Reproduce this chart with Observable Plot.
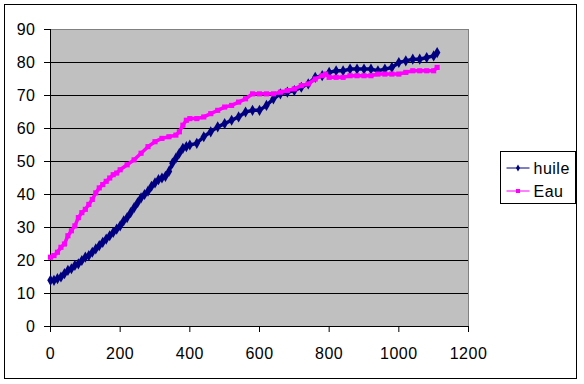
<!DOCTYPE html>
<html>
<head>
<meta charset="utf-8">
<script src="https://cdn.jsdelivr.net/npm/d3@7"></script>
<script src="https://cdn.jsdelivr.net/npm/@observablehq/plot@0.6"></script>
<style>
  html, body { margin: 0; padding: 0; background: #fff; }
  #wrap { position: relative; width: 584px; height: 384px; }
  #border { position: absolute; left: 4px; top: 4px; width: 573px; height: 375px; border: 1px solid #000; box-sizing: border-box; pointer-events: none; }
</style>
</head>
<body>
<div id="wrap"><div id="border"></div></div>
<script>
// Data
const seriesNames = ["huile", "Eau"];
const huileX = [0,10,20,30,40,50,60,70,80,90,100,110,120,130,140,150,160,170,180,190,200,210,220,230,240,250,260,270,280,290,300,310,320,330,340,350,360,370,380,390,400,420,440,460,480,500,520,540,560,580,600,620,640,660,680,700,720,740,760,780,800,820,840,860,880,900,920,940,960,980,1000,1020,1040,1060,1080,1100,1110];
const huileY = [14,14,14.5,15,16,17,17.5,18.5,19,20,21,21.5,22.5,23.5,24.5,25.5,26.5,27.5,28.5,29.5,30.5,32,33,34.5,36,37.5,39,40,41,42.5,43.5,44.5,45,45.5,47,49.5,51,52.5,54,54.5,55,55.5,57.5,59,60.5,61.5,62.5,63.5,65,65.5,65.5,67,69,70.5,71,71.5,72.5,73.5,75.5,76,77,77.5,77.5,78,78,78,78,77.5,78,78.5,80,80.5,81,81,81.5,82,83];
const eauX = [0,10,20,30,40,50,60,70,80,90,100,110,120,130,140,150,160,170,180,190,200,220,240,260,280,300,320,340,360,370,380,390,400,420,440,460,480,500,520,540,560,580,600,620,640,660,680,700,720,740,760,780,790,800,820,840,860,880,900,920,940,960,980,1000,1020,1040,1060,1080,1100,1110];
const eauY = [21,21.5,22.5,24,25,27.5,29,30.5,33,34.5,35.5,37,38.5,40.5,42,43,44,45,46,46.5,47.5,49,50.5,52.5,54.5,56,57,57.5,58,59,61,62.5,63,63,63.5,64.5,65.5,66.5,67,68,69,70.5,70.5,70.5,70.5,71,71.5,72,73,73.5,75,76,76.5,75.5,75.5,75.5,76,76,76,76,76.5,76.5,76.5,76.5,77,77.5,77.5,77.5,77.5,78.5];
const xTicks = [0,200,400,600,800,1000,1200];
const yTicks = [0,10,20,30,40,50,60,70,80,90];
const colors = {huile: "#000080", Eau: "#FF00FF"};

const huile = huileX.map((x, i) => ({x, y: huileY[i], s: "huile"}));
const eau = eauX.map((x, i) => ({x, y: eauY[i], s: "Eau"}));

const chart = Plot.plot({
  width: 584,
  height: 384,
  marginLeft: 50,
  marginRight: 116,
  marginTop: 29,
  marginBottom: 58,
  style: {fontFamily: "'Liberation Sans', Arial, sans-serif", fontSize: "16px", color: "#000", background: "transparent", letterSpacing: "0.5px"},
  x: {domain: [0, 1200], ticks: xTicks, label: null},
  y: {domain: [0, 90], ticks: yTicks, label: null},
  marks: [
    Plot.frame({fill: "#C0C0C0", stroke: "#808080"}),
    Plot.ruleY(yTicks.filter(d => d > 0 && d < 90), {stroke: "#000", strokeWidth: 1}),
    Plot.ruleX([0], {stroke: "#000"}),
    Plot.ruleY([0], {stroke: "#000"}),
    Plot.axisY({ticks: yTicks, tickSize: 6, tickPadding: 9, tickFormat: d => String(d), stroke: "#000", label: null}),
    Plot.axisX({ticks: xTicks, tickSize: 6, tickPadding: 15, tickFormat: d => String(d), stroke: "#000", label: null}),
    Plot.line(huile, {x: "x", y: "y", stroke: colors.huile, strokeWidth: 3.5}),
    Plot.dot(huile, {x: "x", y: "y", symbol: "diamond", r: 3.4, fill: colors.huile, stroke: "none"}),
    Plot.line(eau, {x: "x", y: "y", stroke: colors.Eau, strokeWidth: 3.5}),
    Plot.dot(eau, {x: "x", y: "y", symbol: "square", r: 2.9, fill: colors.Eau, stroke: "none"})
  ]
});
chart.style.position = "absolute";
chart.style.left = "0";
chart.style.top = "0";
document.getElementById("wrap").prepend(chart);

// Legend drawn into the svg
const svg = d3.select(chart);
const lg = svg.append("g").attr("transform", "translate(500.5,151.5)").attr("text-anchor", "start");
lg.append("rect").attr("width", 75).attr("height", 52).attr("fill", "#fff").attr("stroke", "#000");
seriesNames.forEach((name, i) => {
  const y = 16.5 + i * 23;
  lg.append("line").attr("x1", 6).attr("x2", 29).attr("y1", y).attr("y2", y).attr("stroke", colors[name]).attr("stroke-width", 1);
  const sym = name === "huile" ? d3.symbolDiamond : d3.symbolSquare;
  lg.append("path").attr("d", d3.symbol(sym, name === "huile" ? 14 : 16)()).attr("transform", `translate(17.5,${y})`).attr("fill", colors[name]);
  lg.append("text").attr("x", 33).attr("y", y + 6).attr("text-anchor", "start").attr("font-size", 16).attr("fill", "#000").text(name);
});
</script>
</body>
</html>
